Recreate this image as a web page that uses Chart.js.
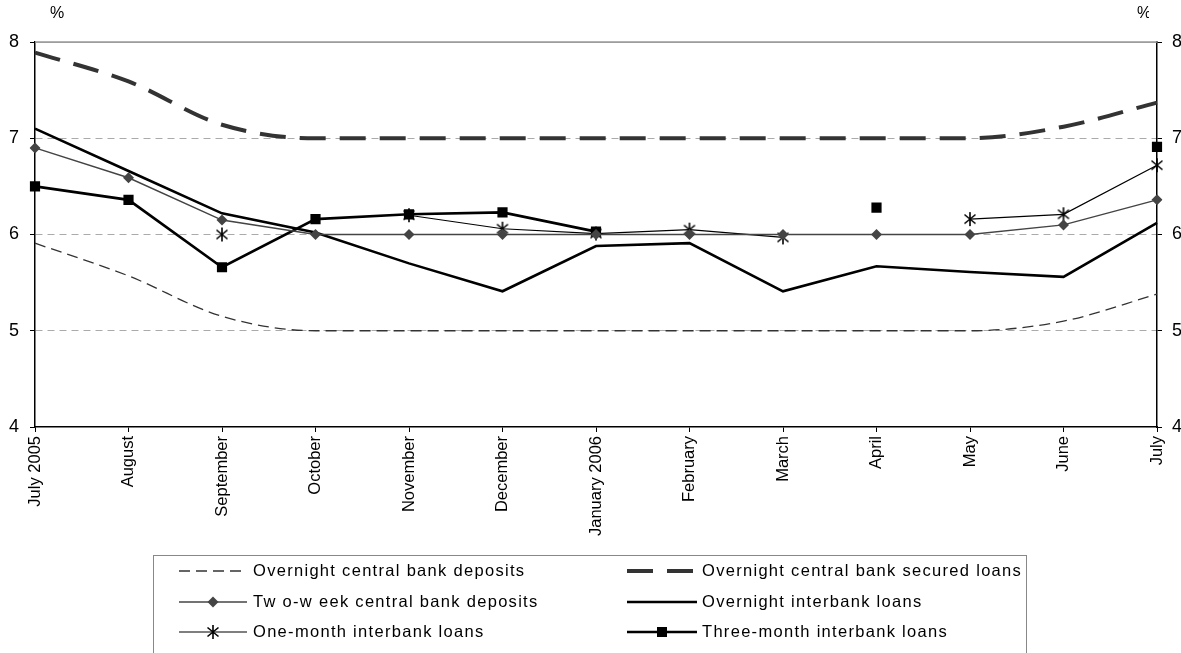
<!DOCTYPE html>
<html>
<head>
<meta charset="utf-8">
<script src="https://cdn.jsdelivr.net/npm/chart.js@4/dist/chart.umd.min.js"></script>
<style>
  html, body { margin:0; padding:0; background:#fff; }
  #wrap { position:relative; width:1181px; height:653px; overflow:hidden; font-family:"Liberation Sans", Arial, sans-serif; }
  canvas { position:absolute; left:0; top:0; }
  .pct { position:absolute; top:4px; font-size:16px; color:#000; }
  #legend { position:absolute; left:153px; top:555px; width:874px; height:130px; border:1px solid #888; box-sizing:border-box; }
  .item { position:absolute; height:24px; }
  .item svg { position:absolute; top:0; }
  .item span { position:absolute; top:2px; font-size:16.5px; letter-spacing:1.3px; white-space:nowrap; color:#000; }
</style>
</head>
<body>
<div id="wrap">
  <canvas id="c" width="1181" height="653"></canvas>
  <div class="pct" style="left:50px;">%</div>
  <div class="pct" style="left:1137px;width:12px;overflow:hidden;">%</div>
  <div id="legend"></div>
</div>
<script>
// ---- data ----
const months = ['July 2005','August','September','October','November','December','January 2006','February','March','April','May','June','July'];
const overnightDeposits = [5.91, 5.57, 5.15, 5.0, 5.0, 5.0, 5.0, 5.0, 5.0, 5.0, 5.0, 5.1, 5.38];
const overnightSecured  = [7.89, 7.59, 7.14, 7.0, 7.0, 7.0, 7.0, 7.0, 7.0, 7.0, 7.0, 7.12, 7.37];
const twoWeekDeposits   = [6.90, 6.59, 6.15, 6.0, 6.0, 6.0, 6.0, 6.0, 6.0, 6.0, 6.0, 6.10, 6.36];
const overnightInterbank= [7.10, 6.66, 6.22, 6.02, 5.70, 5.41, 5.88, 5.91, 5.41, 5.67, 5.61, 5.56, 6.12];
const oneMonthInterbank = [null, null, 6.0, null, 6.20, 6.06, 6.01, 6.05, 5.97, null, 6.16, 6.21, 6.72];
const threeMonthInterbank=[6.50, 6.36, 5.66, 6.16, 6.21, 6.23, 6.03, null, null, 6.28, null, null, 6.91];
const yTicks = [4, 5, 6, 7, 8];
const seriesNames = ['Overnight central bank deposits','Overnight central bank secured loans','Tw o-w eek central bank deposits','Overnight interbank loans','One-month interbank loans','Three-month interbank loans'];

const FONT = '"Liberation Sans", Arial, sans-serif';

// asterisk marker
function makeAsterisk() {
  const cv = document.createElement('canvas');
  cv.width = 16; cv.height = 16;
  const g = cv.getContext('2d');
  g.strokeStyle = '#000'; g.lineWidth = 1.6;
  g.beginPath();
  g.moveTo(2.5,3.5); g.lineTo(13.5,12.5);
  g.moveTo(13.5,3.5); g.lineTo(2.5,12.5);
  g.moveTo(8,1); g.lineTo(8,15);
  g.stroke();
  return cv;
}
const asterisk = makeAsterisk();

const topLinePlugin = {
  id: 'topLine',
  beforeDatasetsDraw(chart) {
    const {ctx, chartArea} = chart;
    ctx.save();
    ctx.strokeStyle = '#999';
    ctx.lineWidth = 1.5;
    ctx.beginPath();
    ctx.moveTo(chartArea.left, chartArea.top);
    ctx.lineTo(chartArea.right, chartArea.top);
    ctx.stroke();
    ctx.restore();
  }
};

new Chart(document.getElementById('c'), {
  type: 'line',
  data: {
    labels: months,
    datasets: [
      { label: seriesNames[0], data: overnightDeposits, borderColor:'#333', borderWidth:1.3, borderDash:[11,6], cubicInterpolationMode:'monotone', pointRadius:0, fill:false },
      { label: seriesNames[1], data: overnightSecured, borderColor:'#333', borderWidth:4, borderDash:[26,14], cubicInterpolationMode:'monotone', pointRadius:0, fill:false },
      { label: seriesNames[2], data: twoWeekDeposits, borderColor:'#444', borderWidth:1.5, pointStyle:'rectRot', pointRadius:5.5, pointBackgroundColor:'#444', pointBorderColor:'#444', pointBorderWidth:0, tension:0, fill:false },
      { label: seriesNames[3], data: overnightInterbank, borderColor:'#000', borderWidth:2.6, pointRadius:0, tension:0, fill:false },
      { label: seriesNames[4], data: oneMonthInterbank, borderColor:'#000', borderWidth:1.2, pointStyle:asterisk, pointRadius:7, tension:0, spanGaps:false, fill:false },
      { label: seriesNames[5], data: threeMonthInterbank, borderColor:'#000', borderWidth:2.6, pointStyle:'rect', pointRadius:7.2, pointBackgroundColor:'#000', pointBorderColor:'#000', pointBorderWidth:0, tension:0, spanGaps:false, fill:false }
    ]
  },
  options: {
    responsive:false, animation:false, devicePixelRatio:1,
    layout:{ padding:{ top:42, left:0, right:0, bottom:0 } },
    plugins:{ legend:{ display:false }, tooltip:{ enabled:false } },
    scales:{
      x:{
        offset:false,
        grid:{ display:true, drawOnChartArea:false, drawTicks:true, tickLength:5, tickColor:'#000', tickWidth:1 },
        border:{ color:'#000', width:1.5 },
        ticks:{ autoSkip:false, maxRotation:90, minRotation:90, padding:4, color:'#000', font:{ family:FONT, size:16.5 } },
        afterFit(s){ s.height = 226; }
      },
      y:{
        position:'left', min:4, max:8,
        afterBuildTicks(s){ s.ticks = yTicks.map(v => ({value:v})); },
        ticks:{ padding:11, color:'#000', font:{ family:FONT, size:18 } },
        grid:{ color: c => (c.tick && c.tick.value === 4) ? 'rgba(0,0,0,0)' : '#aaa', lineWidth:1, tickColor:'#000', tickLength:5, tickWidth:1 },
        border:{ color:'#000', width:1.5, dash: c => (c.tick && c.tick.value === 8) ? [] : [7,5] },
        afterFit(s){ s.width = 35; }
      },
      y2:{
        position:'right', min:4, max:8,
        afterBuildTicks(s){ s.ticks = yTicks.map(v => ({value:v})); },
        ticks:{ padding:10, color:'#000', font:{ family:FONT, size:18 } },
        grid:{ drawOnChartArea:false, tickColor:'#000', tickLength:5, tickWidth:1 },
        border:{ color:'#000', width:1.5 },
        afterFit(s){ s.width = 24; }
      }
    }
  },
  plugins:[topLinePlugin]
});

// ---- HTML legend ----
const legendDefs = [
  { col:0, row:0, svg:'<line x1="0" y1="12" x2="68" y2="12" stroke="#333" stroke-width="1.3" stroke-dasharray="11,6"/>' },
  { col:1, row:0, svg:'<line x1="0" y1="12" x2="70" y2="12" stroke="#333" stroke-width="4" stroke-dasharray="26,14"/>' },
  { col:0, row:1, svg:'<line x1="0" y1="12" x2="68" y2="12" stroke="#444" stroke-width="1.5"/><polygon points="34,6.5 39.5,12 34,17.5 28.5,12" fill="#444"/>' },
  { col:1, row:1, svg:'<line x1="0" y1="12" x2="70" y2="12" stroke="#000" stroke-width="2.6"/>' },
  { col:0, row:2, svg:'<line x1="0" y1="12" x2="68" y2="12" stroke="#000" stroke-width="1.2"/><path d="M28.5,7.5 L39.5,16.5 M39.5,7.5 L28.5,16.5 M34,5 L34,19" stroke="#000" stroke-width="1.6"/>' },
  { col:1, row:2, svg:'<line x1="0" y1="12" x2="70" y2="12" stroke="#000" stroke-width="2.6"/><rect x="30" y="7" width="10" height="10" fill="#000"/>' }
];
const colX = [179 - 154, 627 - 154];
const textX = [253 - 154, 702 - 154];
const rowY = [571 - 556, 602 - 556, 632 - 556];
const leg = document.getElementById('legend');
legendDefs.forEach((d, i) => {
  const div = document.createElement('div');
  div.className = 'item';
  div.style.left = '0px';
  div.style.top = (rowY[d.row] - 12) + 'px';
  div.style.width = '860px';
  const w = d.col === 0 ? 68 : 70;
  div.innerHTML = '<svg width="' + w + '" height="24" style="left:' + colX[d.col] + 'px">' + d.svg + '</svg>' +
                  '<span style="left:' + textX[d.col] + 'px">' + seriesNames[i] + '</span>';
  leg.appendChild(div);
});
</script>
</body>
</html>
